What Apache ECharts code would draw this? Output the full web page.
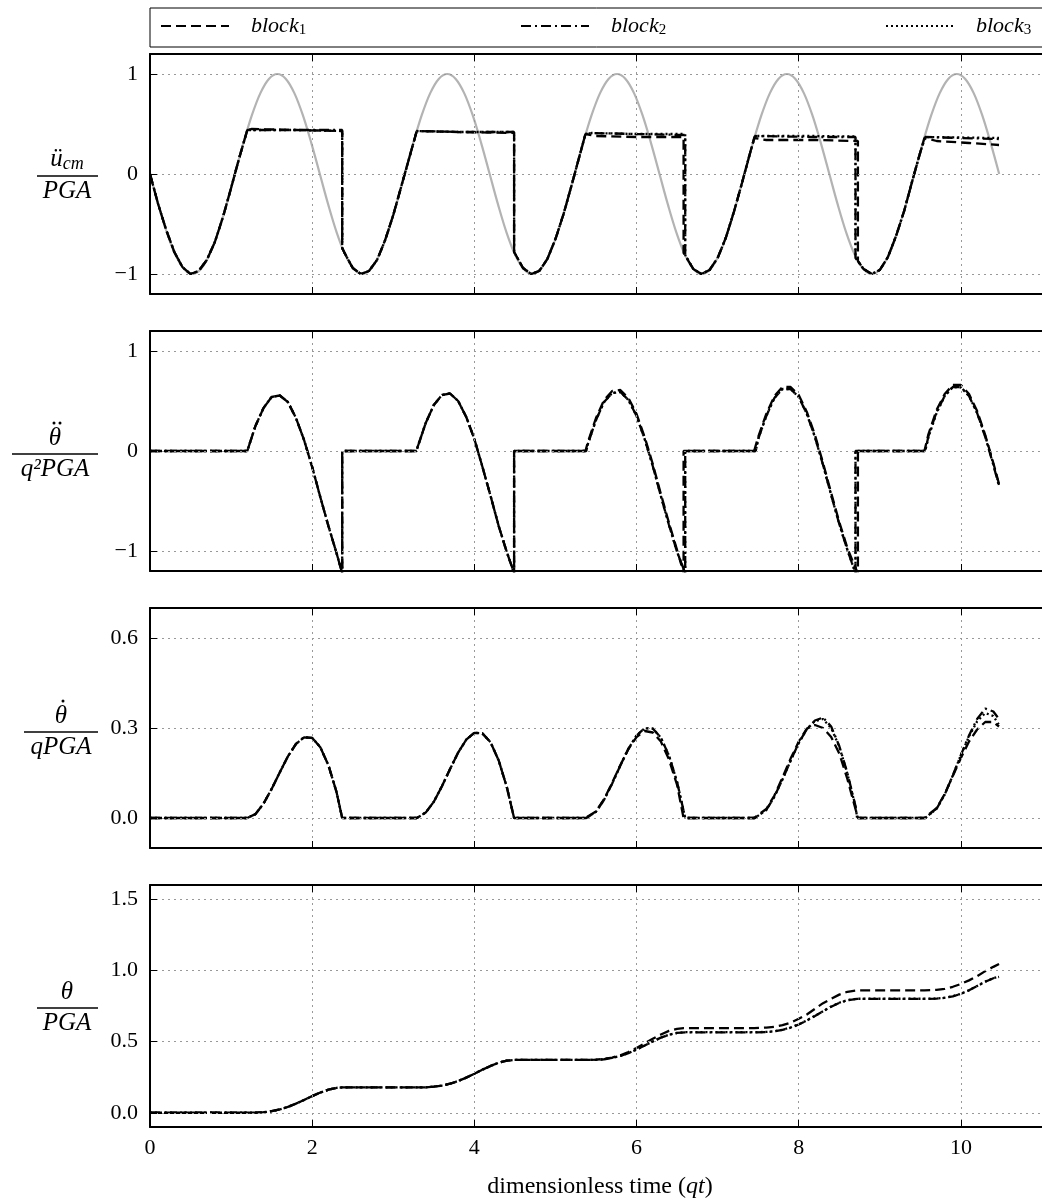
<!DOCTYPE html>
<html><head><meta charset="utf-8">
<script src="https://cdn.jsdelivr.net/npm/echarts@6/dist/echarts.min.js"></script>
<style>html,body{margin:0;padding:0;background:#fff}#c{width:1042px;height:1203px}</style>
</head><body><div id="c"></div><script>
// ---------- DATA ----------
const xTicks = [0, 2, 4, 6, 8, 10];
const seriesNames = ['block1', 'block2', 'block3'];
// ground acceleration / PGA, sampled every groundDt
const groundDt = 0.10472;
const groundAcc = [0,-0.309,-0.588,-0.809,-0.951,-1,-0.951,-0.809,-0.588,-0.309,0,0.309,0.588,0.809,0.951,1,0.951,0.809,0.588,0.309,
 0,-0.309,-0.588,-0.809,-0.951,-1,-0.951,-0.809,-0.588,-0.309,0,0.309,0.588,0.809,0.951,1,0.951,0.809,0.588,0.309,
 0,-0.309,-0.588,-0.809,-0.951,-1,-0.951,-0.809,-0.588,-0.309,0,0.309,0.588,0.809,0.951,1,0.951,0.809,0.588,0.309,
 0,-0.309,-0.588,-0.809,-0.951,-1,-0.951,-0.809,-0.588,-0.309,0,0.309,0.588,0.809,0.951,1,0.951,0.809,0.588,0.309,
 0,-0.309,-0.588,-0.809,-0.951,-1,-0.951,-0.809,-0.588,-0.309,0,0.309,0.588,0.809,0.951,1,0.951,0.809,0.588,0.309,0];

// panel 1: u_cm / PGA   [t, value]
const acc1 = [[0,0],[0.1,-0.3],[0.2,-0.56],[0.3,-0.78],[0.4,-0.93],[0.5,-1],[0.6,-0.97],[0.7,-0.86],[0.8,-0.68],[0.9,-0.43],[1.0,-0.14],[1.1,0.16],[1.2,0.44],[1.25,0.45],[1.8,0.44],[2.37,0.43],[2.37,-0.74],[2.4,-0.79],[2.5,-0.94],[2.6,-1],[2.7,-0.97],[2.8,-0.86],[2.9,-0.66],[3.0,-0.41],[3.1,-0.12],[3.2,0.17],[3.29,0.43],[3.8,0.42],[4.49,0.41],[4.49,-0.78],[4.6,-0.94],[4.7,-1],[4.8,-0.97],[4.9,-0.85],[5.0,-0.65],[5.1,-0.4],[5.2,-0.11],[5.3,0.19],[5.37,0.4],[5.5,0.38],[6.0,0.37],[6.58,0.37],[6.58,-0.79],[6.7,-0.95],[6.8,-1],[6.9,-0.96],[7.0,-0.84],[7.1,-0.64],[7.2,-0.38],[7.3,-0.09],[7.4,0.21],[7.45,0.36],[7.6,0.34],[8.2,0.34],[8.73,0.33],[8.73,-0.87],[8.8,-0.95],[8.9,-1],[9.0,-0.96],[9.1,-0.83],[9.2,-0.62],[9.3,-0.37],[9.4,-0.07],[9.5,0.22],[9.55,0.36],[9.7,0.33],[10.1,0.31],[10.47,0.29]];
const acc2 = [[0,0],[0.1,-0.3],[0.2,-0.56],[0.3,-0.78],[0.4,-0.93],[0.5,-1],[0.6,-0.97],[0.7,-0.86],[0.8,-0.68],[0.9,-0.43],[1.0,-0.14],[1.1,0.16],[1.2,0.44],[1.25,0.44],[1.8,0.44],[2.37,0.44],[2.37,-0.74],[2.4,-0.79],[2.5,-0.94],[2.6,-1],[2.7,-0.97],[2.8,-0.86],[2.9,-0.66],[3.0,-0.41],[3.1,-0.12],[3.2,0.17],[3.29,0.43],[3.8,0.42],[4.49,0.42],[4.49,-0.78],[4.6,-0.94],[4.7,-1],[4.8,-0.97],[4.9,-0.85],[5.0,-0.65],[5.1,-0.4],[5.2,-0.11],[5.3,0.19],[5.37,0.4],[5.45,0.41],[6.0,0.40],[6.6,0.39],[6.6,-0.81],[6.7,-0.95],[6.8,-1],[6.9,-0.96],[7.0,-0.84],[7.1,-0.64],[7.2,-0.38],[7.3,-0.09],[7.4,0.21],[7.46,0.38],[8.2,0.37],[8.7,0.37],[8.7,-0.84],[8.8,-0.95],[8.9,-1],[9.0,-0.96],[9.1,-0.83],[9.2,-0.62],[9.3,-0.37],[9.4,-0.07],[9.5,0.22],[9.56,0.37],[10.0,0.36],[10.47,0.35]];
const acc3 = [[0,0],[0.1,-0.3],[0.2,-0.56],[0.3,-0.78],[0.4,-0.93],[0.5,-1],[0.6,-0.97],[0.7,-0.86],[0.8,-0.68],[0.9,-0.43],[1.0,-0.14],[1.1,0.16],[1.2,0.44],[1.25,0.44],[1.8,0.44],[2.37,0.43],[2.37,-0.74],[2.4,-0.79],[2.5,-0.94],[2.6,-1],[2.7,-0.97],[2.8,-0.86],[2.9,-0.66],[3.0,-0.41],[3.1,-0.12],[3.2,0.17],[3.29,0.43],[3.8,0.42],[4.49,0.42],[4.49,-0.78],[4.6,-0.94],[4.7,-1],[4.8,-0.97],[4.9,-0.85],[5.0,-0.65],[5.1,-0.4],[5.2,-0.11],[5.3,0.19],[5.37,0.4],[5.45,0.41],[6.0,0.40],[6.6,0.40],[6.6,-0.81],[6.7,-0.95],[6.8,-1],[6.9,-0.96],[7.0,-0.84],[7.1,-0.64],[7.2,-0.38],[7.3,-0.09],[7.4,0.21],[7.46,0.38],[8.2,0.38],[8.7,0.375],[8.7,-0.84],[8.8,-0.95],[8.9,-1],[9.0,-0.96],[9.1,-0.83],[9.2,-0.62],[9.3,-0.37],[9.4,-0.07],[9.5,0.22],[9.56,0.37],[10.0,0.365],[10.47,0.36]];

// panel 2: theta-ddot / (q^2 PGA)
const ang1 = [[0,0],[1.2,0],[1.3,0.25],[1.4,0.43],[1.5,0.54],[1.6,0.555],[1.7,0.49],[1.8,0.33],[1.9,0.11],[2.0,-0.16],[2.1,-0.46],[2.2,-0.75],[2.3,-1.02],[2.37,-1.22],[2.37,0],[3.29,0],[3.3,0.04],[3.4,0.28],[3.5,0.46],[3.6,0.56],[3.7,0.575],[3.8,0.5],[3.9,0.34],[4.0,0.12],[4.1,-0.16],[4.2,-0.45],[4.3,-0.75],[4.4,-1.01],[4.49,-1.22],[4.49,0],[5.37,0],[5.4,0.09],[5.5,0.33],[5.6,0.51],[5.7,0.6],[5.8,0.61],[5.9,0.53],[6.0,0.37],[6.1,0.14],[6.2,-0.13],[6.3,-0.43],[6.4,-0.72],[6.5,-0.99],[6.58,-1.22],[6.58,0],[7.45,0],[7.5,0.14],[7.6,0.37],[7.7,0.55],[7.8,0.64],[7.9,0.64],[8.0,0.56],[8.1,0.39],[8.2,0.16],[8.3,-0.12],[8.4,-0.42],[8.5,-0.71],[8.6,-0.97],[8.7,-1.17],[8.73,-1.22],[8.73,0],[9.55,0],[9.6,0.17],[9.7,0.41],[9.8,0.57],[9.9,0.66],[10.0,0.66],[10.1,0.57],[10.2,0.4],[10.3,0.16],[10.4,-0.12],[10.47,-0.33]];
const ang2 = [[0,0],[1.2,0],[1.3,0.25],[1.4,0.43],[1.5,0.54],[1.6,0.555],[1.7,0.49],[1.8,0.33],[1.9,0.11],[2.0,-0.16],[2.1,-0.46],[2.2,-0.75],[2.3,-1.02],[2.37,-1.22],[2.37,0],[3.29,0],[3.3,0.04],[3.4,0.28],[3.5,0.46],[3.6,0.56],[3.7,0.575],[3.8,0.5],[3.9,0.34],[4.0,0.12],[4.1,-0.16],[4.2,-0.45],[4.3,-0.75],[4.4,-1.01],[4.49,-1.22],[4.49,0],[5.38,0],[5.4,0.07],[5.5,0.31],[5.6,0.49],[5.7,0.58],[5.8,0.59],[5.9,0.51],[6.0,0.35],[6.1,0.12],[6.2,-0.15],[6.3,-0.45],[6.4,-0.74],[6.5,-1.01],[6.6,-1.22],[6.6,0],[7.47,0],[7.5,0.12],[7.6,0.35],[7.7,0.53],[7.8,0.62],[7.9,0.62],[8.0,0.54],[8.1,0.37],[8.2,0.14],[8.3,-0.14],[8.4,-0.44],[8.5,-0.73],[8.6,-0.99],[8.7,-1.22],[8.7,0],[9.56,0],[9.6,0.15],[9.7,0.39],[9.8,0.55],[9.9,0.64],[10.0,0.64],[10.1,0.55],[10.2,0.38],[10.3,0.14],[10.4,-0.14],[10.47,-0.35]];
const ang3 = [[0,0],[1.2,0],[1.3,0.25],[1.4,0.43],[1.5,0.54],[1.6,0.555],[1.7,0.49],[1.8,0.33],[1.9,0.11],[2.0,-0.16],[2.1,-0.46],[2.2,-0.75],[2.3,-1.02],[2.37,-1.22],[2.37,0],[3.29,0],[3.3,0.04],[3.4,0.28],[3.5,0.46],[3.6,0.56],[3.7,0.575],[3.8,0.5],[3.9,0.34],[4.0,0.12],[4.1,-0.16],[4.2,-0.45],[4.3,-0.75],[4.4,-1.01],[4.49,-1.22],[4.49,0],[5.38,0],[5.4,0.07],[5.5,0.31],[5.6,0.49],[5.7,0.58],[5.8,0.59],[5.9,0.51],[6.0,0.35],[6.1,0.12],[6.2,-0.15],[6.3,-0.45],[6.4,-0.74],[6.5,-1.01],[6.6,-1.22],[6.6,0],[7.47,0],[7.5,0.12],[7.6,0.35],[7.7,0.53],[7.8,0.62],[7.9,0.62],[8.0,0.54],[8.1,0.37],[8.2,0.14],[8.3,-0.14],[8.4,-0.44],[8.5,-0.73],[8.6,-0.99],[8.7,-1.22],[8.7,0],[9.56,0],[9.6,0.14],[9.7,0.38],[9.8,0.55],[9.9,0.64],[10.0,0.635],[10.1,0.55],[10.2,0.38],[10.3,0.15],[10.4,-0.13],[10.47,-0.34]];

// panel 3: theta-dot / (q PGA)
const vel1 = [[0,0],[1.2,0],[1.3,0.013],[1.4,0.048],[1.5,0.097],[1.6,0.152],[1.7,0.205],[1.8,0.247],[1.9,0.269],[2.0,0.267],[2.1,0.236],[2.2,0.176],[2.3,0.087],[2.37,0],[3.29,0],[3.4,0.018],[3.5,0.054],[3.6,0.106],[3.7,0.163],[3.8,0.218],[3.9,0.261],[4.0,0.284],[4.1,0.282],[4.2,0.252],[4.3,0.192],[4.4,0.103],[4.49,0],[5.37,0],[5.5,0.022],[5.6,0.063],[5.7,0.118],[5.8,0.176],[5.9,0.23],[6.0,0.27],[6.1,0.29],[6.2,0.285],[6.3,0.255],[6.4,0.195],[6.5,0.11],[6.58,0],[7.45,0],[7.6,0.03],[7.7,0.075],[7.8,0.135],[7.9,0.198],[8.0,0.255],[8.1,0.298],[8.2,0.31],[8.3,0.3],[8.4,0.27],[8.5,0.215],[8.6,0.13],[8.7,0.03],[8.73,0],[9.55,0],[9.7,0.033],[9.8,0.08],[9.9,0.14],[10.0,0.2],[10.1,0.255],[10.2,0.295],[10.3,0.32],[10.4,0.32],[10.47,0.305]];
const vel2 = [[0,0],[1.2,0],[1.3,0.013],[1.4,0.048],[1.5,0.097],[1.6,0.152],[1.7,0.205],[1.8,0.247],[1.9,0.269],[2.0,0.267],[2.1,0.236],[2.2,0.176],[2.3,0.087],[2.37,0],[3.29,0],[3.4,0.018],[3.5,0.054],[3.6,0.106],[3.7,0.163],[3.8,0.218],[3.9,0.261],[4.0,0.284],[4.1,0.282],[4.2,0.252],[4.3,0.192],[4.4,0.103],[4.49,0],[5.38,0],[5.5,0.021],[5.6,0.061],[5.7,0.115],[5.8,0.175],[5.9,0.231],[6.0,0.275],[6.1,0.299],[6.2,0.298],[6.3,0.268],[6.4,0.208],[6.5,0.12],[6.6,0],[7.46,0],[7.6,0.027],[7.7,0.071],[7.8,0.129],[7.9,0.191],[8.0,0.25],[8.1,0.296],[8.2,0.325],[8.3,0.335],[8.4,0.305],[8.5,0.24],[8.6,0.15],[8.7,0.04],[8.72,0],[9.56,0],[9.7,0.031],[9.8,0.078],[9.9,0.142],[10.0,0.21],[10.1,0.275],[10.2,0.33],[10.3,0.365],[10.4,0.355],[10.47,0.33]];
const vel3 = [[0,0],[1.2,0],[1.3,0.013],[1.4,0.048],[1.5,0.097],[1.6,0.152],[1.7,0.205],[1.8,0.247],[1.9,0.269],[2.0,0.267],[2.1,0.236],[2.2,0.176],[2.3,0.087],[2.37,0],[3.29,0],[3.4,0.018],[3.5,0.054],[3.6,0.106],[3.7,0.163],[3.8,0.218],[3.9,0.261],[4.0,0.284],[4.1,0.282],[4.2,0.252],[4.3,0.192],[4.4,0.103],[4.49,0],[5.38,0],[5.5,0.021],[5.6,0.061],[5.7,0.115],[5.8,0.175],[5.9,0.231],[6.0,0.275],[6.1,0.299],[6.2,0.298],[6.3,0.268],[6.4,0.208],[6.5,0.12],[6.6,0],[7.46,0],[7.6,0.027],[7.7,0.071],[7.8,0.129],[7.9,0.191],[8.0,0.25],[8.1,0.296],[8.2,0.323],[8.3,0.33],[8.4,0.3],[8.5,0.238],[8.6,0.148],[8.7,0.038],[8.72,0],[9.56,0],[9.7,0.031],[9.8,0.078],[9.9,0.142],[10.0,0.21],[10.1,0.272],[10.2,0.322],[10.3,0.35],[10.4,0.34],[10.47,0.31]];

// panel 4: theta / PGA
const rot1 = [[0,0],[1.2,0],[1.3,0.001],[1.4,0.004],[1.5,0.011],[1.6,0.023],[1.7,0.041],[1.8,0.064],[1.9,0.09],[2.0,0.117],[2.1,0.142],[2.2,0.162],[2.3,0.175],[2.37,0.178],[3.29,0.178],[3.4,0.179],[3.5,0.183],[3.6,0.191],[3.7,0.204],[3.8,0.223],[3.9,0.247],[4.0,0.274],[4.1,0.303],[4.2,0.329],[4.3,0.352],[4.4,0.366],[4.49,0.371],[5.37,0.371],[5.5,0.373],[5.6,0.378],[5.7,0.388],[5.8,0.404],[5.9,0.426],[6.0,0.455],[6.1,0.487],[6.2,0.52],[6.3,0.55],[6.4,0.575],[6.5,0.59],[6.58,0.595],[7.45,0.595],[7.6,0.598],[7.7,0.604],[7.8,0.615],[7.9,0.633],[8.0,0.66],[8.1,0.69],[8.2,0.73],[8.3,0.77],[8.4,0.8],[8.5,0.83],[8.6,0.85],[8.73,0.86],[9.55,0.86],[9.7,0.863],[9.8,0.87],[9.9,0.885],[10.0,0.905],[10.1,0.93],[10.2,0.96],[10.3,0.995],[10.4,1.025],[10.47,1.045]];
const rot2 = [[0,0],[1.2,0],[1.3,0.001],[1.4,0.004],[1.5,0.011],[1.6,0.023],[1.7,0.041],[1.8,0.064],[1.9,0.09],[2.0,0.117],[2.1,0.142],[2.2,0.162],[2.3,0.175],[2.37,0.178],[3.29,0.178],[3.4,0.179],[3.5,0.183],[3.6,0.191],[3.7,0.204],[3.8,0.223],[3.9,0.247],[4.0,0.274],[4.1,0.303],[4.2,0.329],[4.3,0.352],[4.4,0.366],[4.49,0.371],[5.38,0.371],[5.5,0.372],[5.6,0.376],[5.7,0.385],[5.8,0.399],[5.9,0.419],[6.0,0.444],[6.1,0.472],[6.2,0.501],[6.3,0.528],[6.4,0.548],[6.5,0.561],[6.6,0.565],[7.47,0.565],[7.6,0.567],[7.7,0.572],[7.8,0.582],[7.9,0.598],[8.0,0.62],[8.1,0.648],[8.2,0.68],[8.3,0.713],[8.4,0.745],[8.5,0.772],[8.6,0.79],[8.72,0.8],[9.56,0.8],[9.7,0.802],[9.8,0.807],[9.9,0.818],[10.0,0.835],[10.1,0.86],[10.2,0.89],[10.3,0.92],[10.4,0.945],[10.47,0.955]];
const rot3 = [[0,0],[1.2,0],[1.3,0.001],[1.4,0.004],[1.5,0.011],[1.6,0.023],[1.7,0.041],[1.8,0.064],[1.9,0.09],[2.0,0.117],[2.1,0.142],[2.2,0.162],[2.3,0.175],[2.37,0.178],[3.29,0.178],[3.4,0.179],[3.5,0.183],[3.6,0.191],[3.7,0.204],[3.8,0.223],[3.9,0.247],[4.0,0.274],[4.1,0.303],[4.2,0.329],[4.3,0.352],[4.4,0.366],[4.49,0.371],[5.38,0.371],[5.5,0.372],[5.6,0.376],[5.7,0.385],[5.8,0.399],[5.9,0.419],[6.0,0.444],[6.1,0.472],[6.2,0.501],[6.3,0.528],[6.4,0.548],[6.5,0.561],[6.6,0.566],[7.47,0.566],[7.6,0.568],[7.7,0.573],[7.8,0.583],[7.9,0.599],[8.0,0.621],[8.1,0.649],[8.2,0.681],[8.3,0.714],[8.4,0.746],[8.5,0.773],[8.6,0.791],[8.72,0.801],[9.56,0.801],[9.7,0.803],[9.8,0.808],[9.9,0.819],[10.0,0.836],[10.1,0.861],[10.2,0.891],[10.3,0.921],[10.4,0.946],[10.47,0.956]];

// ---------- LAYOUT ----------
const SERIF = '"Liberation Serif","DejaVu Serif",serif';
const panels = [
  {top: 54, height: 240, min: -1.2, max: 1.2, step: 1, dec: 0, data: [acc1, acc2, acc3]},
  {top: 331, height: 240, min: -1.2, max: 1.2, step: 1, dec: 0, data: [ang1, ang2, ang3]},
  {top: 608, height: 240, min: -0.1, max: 0.7, step: 0.3, dec: 1, data: [vel1, vel2, vel3]},
  {top: 885, height: 242, min: -0.1, max: 1.6, step: 0.5, dec: 1, data: [rot1, rot2, rot3]}
];
const dashes = [[10, 5], [10, 4, 2, 4], [2, 3]];

function yFmt(step, dec) {
  return function (v) {
    const k = v / step;
    if (Math.abs(k - Math.round(k)) > 1e-6) return '';
    return (Math.round(k) * step).toFixed(dec).replace('-', '\u2212');
  };
}

const grids = [], xAxes = [], yAxes = [], series = [];
panels.forEach((p, i) => {
  grids.push({left: 150, right: -9, top: p.top, height: p.height});
  xAxes.push({
    gridIndex: i, type: 'value', min: 0, max: 11, interval: 2, position: 'bottom', z: 5,
    axisLine: {show: true, onZero: false, lineStyle: {color: '#000', width: 2}},
    axisTick: {show: true, inside: true, length: 7, lineStyle: {color: '#000', width: 1}},
    axisLabel: {show: i === 3, margin: 10, color: '#000', fontFamily: SERIF, fontSize: 22, showMaxLabel: false,
      formatter: v => (xTicks.indexOf(v) >= 0 ? String(v) : '')},
    splitLine: {show: true, showMinLine: false, showMaxLine: false, lineStyle: {color: '#999', width: 1, type: [2, 4]}}
  });
  yAxes.push({
    gridIndex: i, type: 'value', min: p.min, max: p.max, minInterval: p.step, maxInterval: p.step, z: 4,
    axisLine: {show: true, onZero: false, lineStyle: {color: '#000', width: 2}},
    axisTick: {show: true, inside: true, length: 7, lineStyle: {color: '#000', width: 1}},
    axisLabel: {margin: 12, color: '#000', fontFamily: SERIF, fontSize: 22, showMinLabel: false, showMaxLabel: false,
      formatter: yFmt(p.step, p.dec)},
    splitLine: {show: true, showMinLine: false, showMaxLine: false, lineStyle: {color: '#999', width: 1, type: [2, 4]}}
  });
});
panels.forEach((p, i) => {
  xAxes.push({
    gridIndex: i, type: 'value', min: 0, max: 11, interval: 2, position: 'top', z: 5,
    axisLine: {show: true, onZero: false, lineStyle: {color: '#000', width: 2}},
    axisTick: {show: true, inside: true, length: 7, lineStyle: {color: '#000', width: 1}},
    axisLabel: {show: false}, splitLine: {show: false}
  });
});

series.push({
  name: 'ground', type: 'line', xAxisIndex: 0, yAxisIndex: 0, showSymbol: false, symbol: 'none', smooth: 0.35,
  itemStyle: {color: '#b3b3b3'},
  lineStyle: {color: '#b3b3b3', width: 2.2}, data: groundAcc.map((v, k) => [k * groundDt, v]), z: 2
});
panels.forEach((p, i) => {
  p.data.forEach((d, b) => {
    series.push({
      name: seriesNames[b], type: 'line', xAxisIndex: i, yAxisIndex: i, showSymbol: false, symbol: 'none',
      itemStyle: {color: '#000'},
      lineStyle: {color: '#000', width: 2.3, type: dashes[b]}, data: d, z: 3, clip: true
    });
  });
});

const legendRich = {
  i: {fontFamily: SERIF, fontStyle: 'italic', fontSize: 22, color: '#000', padding: [0, 0, 0, 17]},
  s: {fontFamily: SERIF, fontSize: 15, color: '#000', verticalAlign: 'bottom', padding: [8, 0, 0, 0]}
};
const legends = [160, 520, 885].map((x, b) => ({
  data: [seriesNames[b]], left: x, top: 15, itemWidth: 68, itemHeight: 14, padding: 0,
  itemStyle: {opacity: 0},
  formatter: n => '{i|block}{s|' + n.slice(-1) + '}',
  textStyle: {rich: legendRich}
}));

const fracStyle = {fontFamily: SERIF, fontStyle: 'italic', fontSize: 25, fill: '#000'};
function frac(cx, x0, x1, ly, numer, denom, dots) {
  const out = [
    {type: 'text', style: Object.assign({}, fracStyle, {text: numer, x: cx, y: ly - 3, textAlign: 'center', textVerticalAlign: 'bottom',
      rich: {a: {fontFamily: SERIF, fontStyle: 'italic', fontSize: 25}, b: {fontFamily: SERIF, fontStyle: 'italic', fontSize: 18, verticalAlign: 'bottom', padding: [10, 0, 0, 0]}}})},
    {type: 'line', shape: {x1: x0, y1: ly, x2: x1, y2: ly}, style: {stroke: '#000', lineWidth: 1.3}},
    {type: 'text', style: Object.assign({}, fracStyle, {text: denom, x: cx, y: ly + 3, textAlign: 'center', textVerticalAlign: 'top'})}
  ];
  (dots || []).forEach(dx => out.push({type: 'circle', shape: {cx: cx + dx, cy: ly - 31, r: 1.5}, style: {fill: '#000'}}));
  return out;
}

const graphics = [].concat(
  [{type: 'rect', shape: {x: 150, y: 8, width: 905, height: 39}, style: {fill: 'none', stroke: '#000', lineWidth: 1}}],
  frac(67, 37, 98, 176, '{a|ü}{b|cm}', 'PGA'),
  frac(55, 12, 98, 454, '{a|θ}', 'q²PGA', [-1, 5]),
  frac(61, 24, 98, 732, '{a|θ}', 'qPGA', [2]),
  frac(67, 37, 98, 1008, '{a|θ}', 'PGA'),
  [{type: 'text', style: {text: '{n|dimensionless time (}{i|qt}{n|)}', x: 600, y: 1187, textAlign: 'center', textVerticalAlign: 'middle',
    rich: {n: {fontFamily: SERIF, fontSize: 24, color: '#000'}, i: {fontFamily: SERIF, fontStyle: 'italic', fontSize: 24, color: '#000'}}}}]
);

const chart = echarts.init(document.getElementById('c'), null, {renderer: 'canvas'});
chart.setOption({
  animation: false,
  backgroundColor: '#fff',
  grid: grids, xAxis: xAxes, yAxis: yAxes, series: series,
  legend: legends,
  graphic: graphics
});
</script></body></html>
